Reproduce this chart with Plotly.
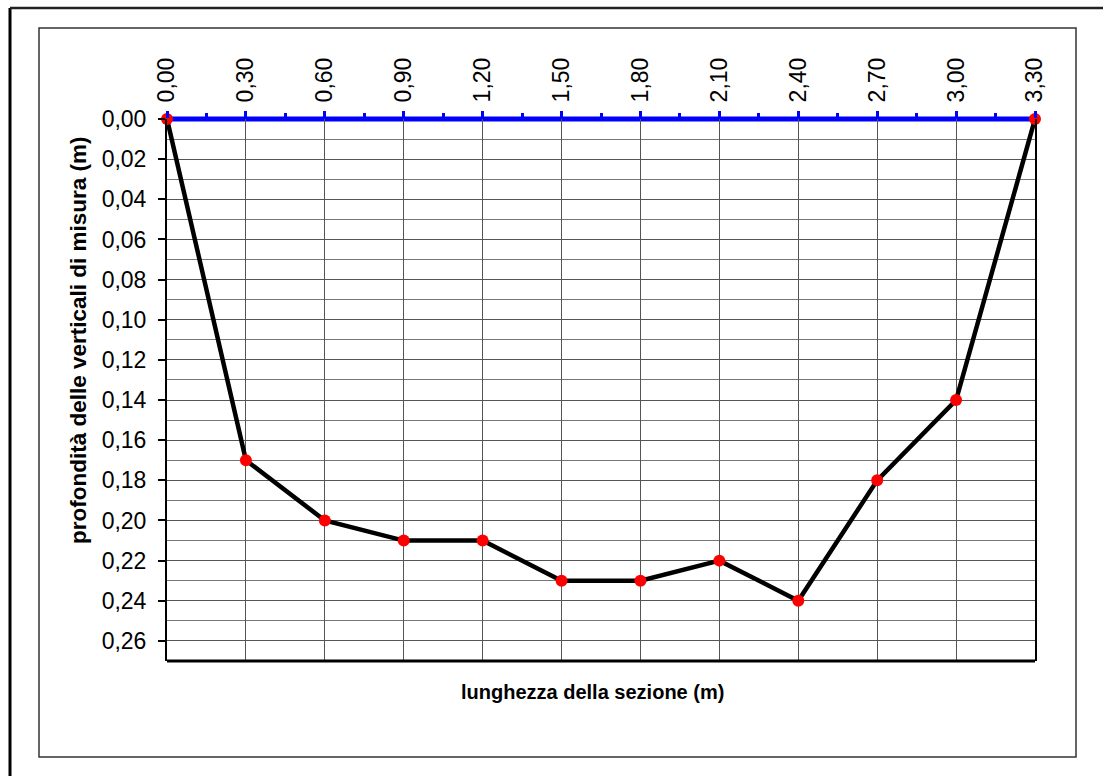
import plotly.graph_objects as go

# Sezione trasversale: distanza dalla sponda (m) e profondità delle verticali (m)
distanze = [0.00, 0.30, 0.60, 0.90, 1.20, 1.50, 1.80, 2.10, 2.40, 2.70, 3.00, 3.30]
profondita = [0.00, 0.17, 0.20, 0.21, 0.21, 0.23, 0.23, 0.22, 0.24, 0.18, 0.14, 0.00]

W, H = 1105, 776
L, R, T, B = 167, 1035, 119, 661
FONT = "Liberation Sans, Arial, sans-serif"


def px_x(px):
    return (px - L) / (R - L)


def px_y(py):
    return (B - py) / (B - T)


fig = go.Figure()

# Profilo del fondo
fig.add_trace(go.Scatter(
    x=distanze, y=profondita, mode="lines+markers",
    line=dict(color="black", width=4.5),
    marker=dict(color="#ff0000", size=12),
    cliponaxis=False, showlegend=False,
))

fig.update_layout(
    width=W, height=H,
    margin=dict(l=L, r=W - R, t=T, b=H - B),
    paper_bgcolor="white", plot_bgcolor="white",
    separators=",.",
    font=dict(family=FONT, color="black"),
    xaxis=dict(
        range=[0, 3.3], side="top",
        tick0=0, dtick=0.3, tickformat=".2f",
        tickangle=-90, tickfont=dict(size=23, family=FONT),
        ticks="outside", ticklen=7, tickwidth=3, tickcolor="#0000ff",
        ticklabelstandoff=4,
        showline=False, zeroline=False,
        showgrid=True, gridcolor="#555555", gridwidth=1,
        minor=dict(dtick=0.15, ticks="outside", ticklen=5,
                   tickwidth=3, tickcolor="#0000ff", showgrid=False),
    ),
    yaxis=dict(
        range=[0.27, 0],
        tick0=0, dtick=0.02, tickformat=".2f",
        tickfont=dict(size=23, family=FONT),
        ticks="outside", ticklen=7, tickwidth=1.5, tickcolor="black",
        ticklabelstandoff=7,
        showline=True, linecolor="black", linewidth=2, mirror=True,
        zeroline=False,
        showgrid=True, gridcolor="#555555", gridwidth=1,
        minor=dict(dtick=0.01, showgrid=True, gridcolor="#777777",
                   gridwidth=1),
    ),
    shapes=[
        # pelo libero (profondità zero), sotto le tracce
        dict(type="line", xref="paper", yref="paper", layer="below",
             x0=0, x1=1, y0=1, y1=1,
             line=dict(color="#0000ff", width=5)),
        # bordo inferiore dell'area del grafico
        dict(type="line", xref="paper", yref="paper",
             x0=0, x1=1, y0=0, y1=0,
             line=dict(color="black", width=3)),
        # cornice dell'area del grafico
        dict(type="rect", xref="paper", yref="paper",
             x0=px_x(39), x1=px_x(1076), y0=px_y(757), y1=px_y(28),
             line=dict(color="#333333", width=1.5)),
        # cornice esterna
        dict(type="line", xref="paper", yref="paper",
             x0=px_x(10), x1=px_x(10), y0=px_y(776), y1=px_y(8),
             line=dict(color="black", width=3)),
        dict(type="line", xref="paper", yref="paper",
             x0=px_x(10), x1=px_x(1103), y0=px_y(8), y1=px_y(8),
             line=dict(color="#222222", width=2.5)),
    ],
    annotations=[
        dict(text="<b>lunghezza della sezione (m)</b>",
             xref="paper", yref="paper",
             x=px_x(592), y=px_y(692), showarrow=False,
             xanchor="center", yanchor="middle",
             font=dict(size=20, family=FONT)),
        dict(text="<b>profondità delle verticali di misura (m)</b>",
             xref="paper", yref="paper", textangle=-90,
             x=px_x(78), y=px_y(340), showarrow=False,
             xanchor="center", yanchor="middle",
             font=dict(size=22.5, family=FONT)),
    ],
)

fig.write_html("out.html")
